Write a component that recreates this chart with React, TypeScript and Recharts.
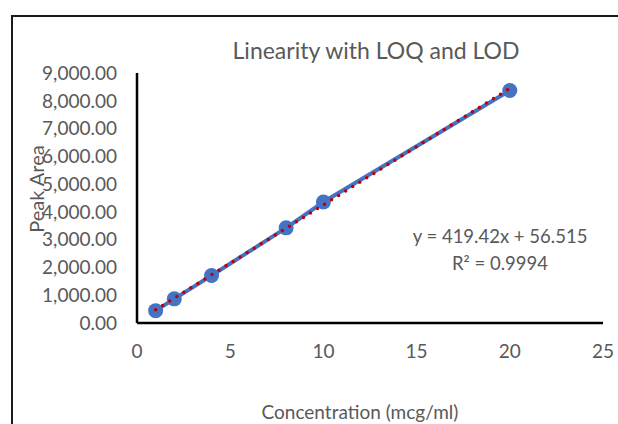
import React from 'react';
import { ScatterChart, Scatter, XAxis, YAxis } from 'recharts';

// ---- data ----
const concentrations = [1, 2, 4, 8, 10, 20];
const peakAreas = [445, 870, 1710, 3425, 4355, 8370];
const xTicks = [0, 5, 10, 15, 20, 25];
const yTicks = [0, 1000, 2000, 3000, 4000, 5000, 6000, 7000, 8000, 9000];
const slope = 419.42;
const intercept = 56.515;
const rSquared = 0.9994;
const titleText = 'Linearity with LOQ and LOD';
const xTitle = 'Concentration (mcg/ml)';
const yTitle = 'Peak Area';

const points = concentrations.map((x, i) => ({ x, y: peakAreas[i] }));
const trendXs = [concentrations[0], concentrations[concentrations.length - 1]];
const trendPoints = trendXs.map((x) => ({ x, y: slope * x + intercept }));

const FONT = 'Lato, "Open Sans", sans-serif';
const TEXT = '#595959';
const BLUE = '#4472C4';
const RED = '#C00000';

const fmtY = (v: number) =>
  v.toLocaleString('en-US', { minimumFractionDigits: 2, maximumFractionDigits: 2 });

const Marker = (props: any) => {
  if (props.cx == null || props.cy == null) return <g />;
  return <circle cx={props.cx} cy={props.cy} r={7.5} fill={BLUE} />;
};
const NoMarker = () => <g />;

export default function App() {
  return (
    <div style={{ position: 'absolute', left: 0, top: 0, width: 618, height: 424, overflow: 'hidden', background: '#fff' }}>
      <div
        style={{
          position: 'absolute',
          left: 11,
          top: 15,
          width: 700,
          height: 500,
          border: '2px solid #1a1a1a',
          boxSizing: 'border-box',
        }}
      />
      <div style={{ position: 'absolute', left: 0, top: 0 }}>
        <ScatterChart
          width={618}
          height={424}
          margin={{ top: 73, right: 15, bottom: 0, left: 0 }}
        >
          <XAxis
            type="number"
            dataKey="x"
            domain={[0, 25]}
            ticks={xTicks}
            interval={0}
            height={101}
            tickLine={false}
            tickSize={0}
            tickMargin={22}
            axisLine={{ stroke: '#000', strokeWidth: 2.5 }}
            tick={{ fill: TEXT, fontSize: 19, fontFamily: FONT }}
          />
          <YAxis
            type="number"
            dataKey="y"
            domain={[0, 9000]}
            ticks={yTicks}
            interval={0}
            width={137}
            tickLine={false}
            tickSize={0}
            tickMargin={20}
            tickFormatter={fmtY}
            axisLine={{ stroke: '#000', strokeWidth: 2.5 }}
            tick={{ fill: TEXT, fontSize: 19, fontFamily: FONT }}
          />
          <Scatter
            data={points}
            isAnimationActive={false}
            line={{ stroke: BLUE, strokeWidth: 4 }}
            lineJointType="linear"
            shape={Marker}
            fill={BLUE}
          />
          <Scatter
            data={trendPoints}
            isAnimationActive={false}
            line={{ stroke: RED, strokeWidth: 3.5, strokeDasharray: '0 8.3', strokeLinecap: 'round' }}
            lineJointType="linear"
            shape={NoMarker}
            fill={RED}
          />
        </ScatterChart>
      </div>
      <svg
        width={618}
        height={424}
        style={{ position: 'absolute', left: 0, top: 0, pointerEvents: 'none' }}
      >
        <text x={376} y={59} textAnchor="middle" fill={TEXT} fontFamily={FONT} fontSize={23}>
          {titleText}
        </text>
        <text x={500} y={243} textAnchor="middle" fill={TEXT} fontFamily={FONT} fontSize={18.5}>
          {`y = ${slope}x + ${intercept}`}
        </text>
        <text x={500} y={270} textAnchor="middle" fill={TEXT} fontFamily={FONT} fontSize={18.5}>
          {`R² = ${rSquared}`}
        </text>
        <text x={360} y={419} textAnchor="middle" fill={TEXT} fontFamily={FONT} fontSize={19}>
          {xTitle}
        </text>
        <text
          x={0}
          y={0}
          textAnchor="middle"
          fill={TEXT}
          fontFamily={FONT}
          fontSize={20}
          transform="translate(44 189) rotate(-90)"
        >
          {yTitle}
        </text>
      </svg>
    </div>
  );
}
